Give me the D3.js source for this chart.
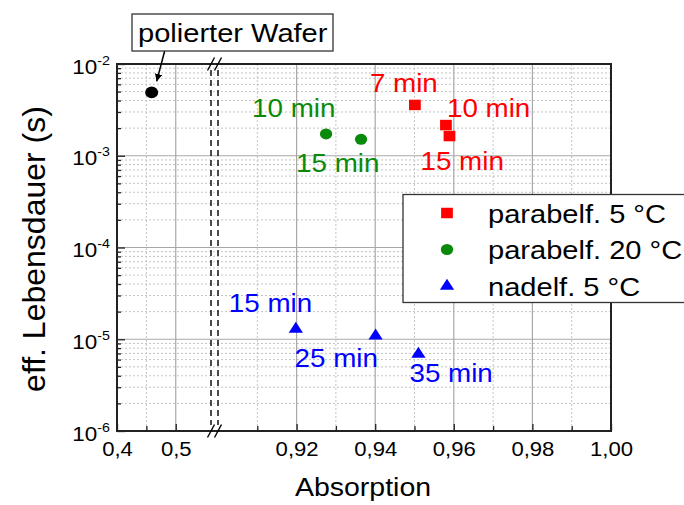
<!DOCTYPE html>
<html>
<head>
<meta charset="utf-8">
<script src="https://cdn.jsdelivr.net/npm/d3@7"></script>
<style>
  body { margin: 0; background: #fff; }
  svg { display: block; font-family: "Liberation Sans", Arial, sans-serif; }
</style>
</head>
<body>
<svg id="chart" width="684" height="505"></svg>
<script>
// ---- data ----
const waferAbs = [0.459];
const waferTau = [4.9e-3];
const waferLabel = "polierter Wafer";

const redAbs = [0.9501, 0.9580, 0.9589];
const redTau = [3.58e-3, 2.16e-3, 1.64e-3];
const redLabels = ["7 min", "10 min", "15 min"];

const greenAbs = [0.9275, 0.9364];
const greenTau = [1.73e-3, 1.51e-3];
const greenLabels = ["10 min", "15 min"];

const blueAbs = [0.9198, 0.9401, 0.9510];
const blueTau = [1.29e-5, 1.09e-5, 6.89e-6];
const blueLabels = ["15 min", "25 min", "35 min"];

const seriesNames = ["parabelf. 5 °C", "parabelf. 20 °C", "nadelf. 5 °C"];

const xTicksLeft = [0.4, 0.5];
const xMinorLeft = [0.45];
const xTicksRight = [0.92, 0.94, 0.96, 0.98, 1.00];
const xMinorRight = [0.91, 0.93, 0.95, 0.97, 0.99];
const xTickLabels = {0.4: "0,4", 0.5: "0,5", 0.92: "0,92", 0.94: "0,94", 0.96: "0,96", 0.98: "0,98", 1: "1,00"};
const yExponents = [-2, -3, -4, -5, -6];

const xTitle = "Absorption";
const yTitle = "eff. Lebensdauer (s)";

// ---- layout ----
const SX = 1.14;               // horizontal text stretch
const L = 117, R = 611, T = 64, B = 431;
const svg = d3.select("#chart");

const xLeft = d3.scaleLinear().domain([0.4, 0.56]).range([L, 211]);
const xRight = d3.scaleLinear().domain([0.9, 1.0]).range([218, R]);
const xPos = v => (v < 0.7 ? xLeft(v) : xRight(v));
const y = d3.scaleLog().domain([1e-6, 1e-2]).range([B, T]);

svg.append("rect").attr("width", 684).attr("height", 505).attr("fill", "#fff");

// ---- grid ----
const grid = svg.append("g");
const yMinor = [], yMajor = [];
yExponents.forEach(e => {
  const d = Math.pow(10, e);
  if (e > -6 && e < -2) yMajor.push(d);
  if (e < -2) for (let m = 2; m <= 9; m++) yMinor.push(m * d);
});
grid.selectAll(".hmin").data(yMinor).join("line")
  .attr("x1", L).attr("x2", R).attr("y1", d => y(d)).attr("y2", d => y(d))
  .attr("stroke", "#c4c4c4").attr("stroke-width", 1).attr("stroke-dasharray", "2,2");
grid.selectAll(".vmin").data(xMinorLeft.concat(xMinorRight)).join("line")
  .attr("x1", d => xPos(d)).attr("x2", d => xPos(d)).attr("y1", T).attr("y2", B)
  .attr("stroke", "#c4c4c4").attr("stroke-width", 1).attr("stroke-dasharray", "2,2");
grid.selectAll(".hmaj").data(yMajor).join("line")
  .attr("x1", L).attr("x2", R).attr("y1", d => y(d)).attr("y2", d => y(d))
  .attr("stroke", "#a8a8a8").attr("stroke-width", 1.2);
grid.selectAll(".vmaj").data([0.5, 0.92, 0.94, 0.96, 0.98]).join("line")
  .attr("x1", d => xPos(d)).attr("x2", d => xPos(d)).attr("y1", T).attr("y2", B)
  .attr("stroke", "#a8a8a8").attr("stroke-width", 1.2);

// ---- axes ----
const yTickVals = yExponents.map(e => Math.pow(10, e)).concat(yMinor);
const yAxis = svg.append("g").attr("transform", `translate(${L},0)`)
  .call(d3.axisLeft(y).tickValues(yTickVals).tickSizeInner(-7).tickSizeOuter(0).tickFormat(""));
yAxis.select(".domain").remove();
yAxis.selectAll(".tick line").attr("stroke", "#222").attr("stroke-width", 1.3)
  .attr("x2", d => (yMinor.includes(d) ? 4 : 8));
yAxis.selectAll(".tick text").remove();
yAxis.selectAll(".tick").filter(d => !yMinor.includes(d)).each(function (d) {
  const e = Math.round(Math.log10(d));
  const t = d3.select(this).append("text")
    .attr("transform", `translate(-7,9) scale(${SX},1)`)
    .attr("text-anchor", "end").attr("fill", "#000");
  t.append("tspan").attr("font-size", 19.7).text("10");
  t.append("tspan").attr("font-size", 12.5).attr("dy", -9).text(String(e));
});

function bottomAxis(scale, major, minor) {
  const g = svg.append("g").attr("transform", `translate(0,${B})`)
    .call(d3.axisBottom(scale).tickValues(major.concat(minor)).tickSizeInner(-7).tickSizeOuter(0)
      .tickFormat(d => xTickLabels[d] || ""));
  g.select(".domain").remove();
  g.selectAll(".tick line").attr("stroke", "#222").attr("stroke-width", 1.3)
    .attr("y2", d => (minor.includes(d) ? -5 : -7));
  g.selectAll(".tick text").attr("y", 0).attr("dy", 0)
    .attr("transform", `translate(0,25) scale(${SX},1)`)
    .attr("font-size", 19.4).attr("fill", "#000");
}
bottomAxis(xLeft, xTicksLeft, xMinorLeft);
bottomAxis(xRight, xTicksRight, xMinorRight);

// frame
svg.append("rect").attr("x", L).attr("y", T).attr("width", R - L).attr("height", B - T)
  .attr("fill", "none").attr("stroke", "#222").attr("stroke-width", 2);

// axis break
const breakX = [xLeft(0.56), xRight(0.9)];
svg.selectAll(".brk").data(breakX).join("line")
  .attr("x1", d => d).attr("x2", d => d).attr("y1", T + 6).attr("y2", B - 6)
  .attr("stroke", "#000").attr("stroke-width", 1.4).attr("stroke-dasharray", "6,4");
[T, B].forEach(yy => {
  breakX.forEach(bx => {
    svg.append("line").attr("x1", bx - 3.5).attr("y1", yy + 6.5).attr("x2", bx + 3.5).attr("y2", yy - 6.5)
      .attr("stroke", "#000").attr("stroke-width", 1.4);
  });
});

// ---- markers ----
const MSX = 1.12;
const sym = {
  circle: d3.symbol().type(d3.symbolCircle).size(95)(),
  bigCircle: d3.symbol().type(d3.symbolCircle).size(106)(),
  square: d3.symbol().type(d3.symbolSquare).size(110)(),
  triangle: d3.symbol().type(d3.symbolTriangle).size(70)()
};
function drawSeries(xs, ys, shape, color) {
  svg.append("g").selectAll("path").data(xs).join("path")
    .attr("d", sym[shape])
    .attr("transform", (d, i) => `translate(${xPos(d)},${y(ys[i])}) scale(${MSX},1)`)
    .attr("fill", color);
}
function drawLabels(xs, ys, labels, offsets, color) {
  svg.append("g").selectAll("text").data(labels).join("text")
    .attr("transform", (d, i) => `translate(${xPos(xs[i]) + offsets[i][0]},${y(ys[i]) + offsets[i][1]}) scale(1.09,1)`)
    .attr("font-size", 25.5).attr("fill", color).text(d => d);
}
const RED = "#ff0000", GREEN = "#0a8a0a", BLUE = "#0000ff";
drawSeries(redAbs, redTau, "square", RED);
drawSeries(greenAbs, greenTau, "circle", GREEN);
drawSeries(blueAbs, blueTau, "triangle", BLUE);
drawSeries(waferAbs, waferTau, "bigCircle", "#000");

drawLabels(redAbs, redTau, redLabels, [[-45, -13], [1, -8], [-29, 34]], RED);
drawLabels(greenAbs, greenTau, greenLabels, [[-74, -17], [-65, 33]], GREEN);
drawLabels(blueAbs, blueTau, blueLabels, [[-67, -17], [-81, 31], [-9, 28]], BLUE);

// ---- annotation ----
svg.append("defs").append("marker").attr("id", "arrow")
  .attr("viewBox", "0 0 10 10").attr("refX", 10).attr("refY", 5)
  .attr("markerWidth", 5).attr("markerHeight", 5).attr("orient", "auto")
  .append("path").attr("d", "M0,0 L10,5 L0,10 Z").attr("fill", "#000");
const wx = xPos(waferAbs[0]), wy = y(waferTau[0]);
svg.append("line").attr("x1", wx + 13).attr("y1", 51).attr("x2", wx + 5).attr("y2", wy - 11)
  .attr("stroke", "#000").attr("stroke-width", 1.5).attr("marker-end", "url(#arrow)");
svg.append("rect").attr("x", 132).attr("y", 14).attr("width", 201).attr("height", 37)
  .attr("fill", "#fff").attr("stroke", "#333").attr("stroke-width", 1.3);
svg.append("text").attr("transform", `translate(138,42) scale(${SX},1)`)
  .attr("font-size", 25.5).attr("fill", "#000").text(waferLabel);

// ---- legend ----
const leg = svg.append("g");
leg.append("rect").attr("x", 403).attr("y", 194.5).attr("width", 300).attr("height", 108)
  .attr("fill", "#fff").attr("stroke", "#333").attr("stroke-width", 1.3);
const legShapes = ["square", "circle", "triangle"], legColors = [RED, GREEN, BLUE];
seriesNames.forEach((name, i) => {
  const cy = 213 + i * 36.5;
  leg.append("path").attr("d", sym[legShapes[i]])
    .attr("transform", `translate(447,${cy}) scale(${MSX},1)`).attr("fill", legColors[i]);
  leg.append("text").attr("transform", `translate(488,${cy + 9.5}) scale(${SX},1)`)
    .attr("font-size", 25.5).attr("fill", "#000").text(name);
});

// ---- axis titles ----
svg.append("text").attr("transform", `translate(363,496) scale(${SX},1)`)
  .attr("text-anchor", "middle").attr("font-size", 25).attr("fill", "#000").text(xTitle);
svg.append("text").attr("transform", "translate(45,249) rotate(-90)")
  .attr("text-anchor", "middle").attr("font-size", 32).attr("fill", "#000").text(yTitle);
</script>
</body>
</html>
